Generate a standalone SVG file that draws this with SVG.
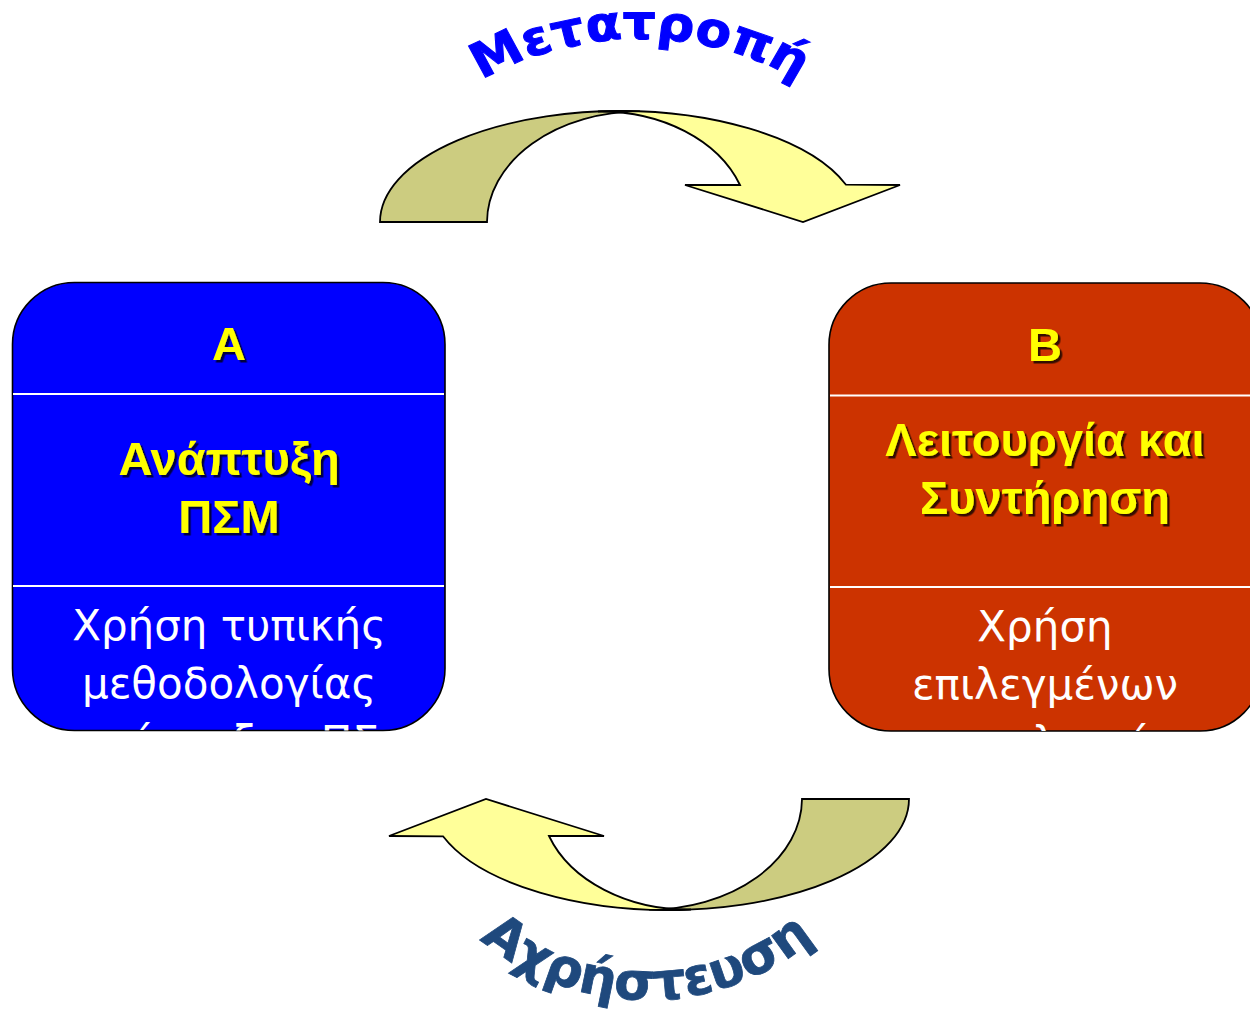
<svg xmlns="http://www.w3.org/2000/svg" width="1250" height="1011" viewBox="0 0 1250 1011">
  <style>
    .dark { fill: #CCCC80; stroke: #000; stroke-width: 1.8; stroke-linejoin: miter; }
    .light { fill: #FFFF99; stroke: #000; stroke-width: 1.8; stroke-linejoin: miter; }
    .box { stroke: #000; stroke-width: 1.6; }
    .div { stroke: #FFFFFF; stroke-width: 2; }
    .head { font-family: "Liberation Sans", Arial, sans-serif; font-weight: bold; font-size: 47px; fill: #FFFF00; text-anchor: middle; }
    .body { font-family: "DejaVu Sans", Verdana, sans-serif; font-size: 42px; fill: #FFFFFF; text-anchor: middle; }
    .title { font-family: "DejaVu Sans", Verdana, sans-serif; font-weight: bold; }
  </style>
  <defs>
    <filter id="shadow" x="-10%" y="-10%" width="130%" height="140%">
      <feDropShadow dx="2.5" dy="2.5" stdDeviation="0.6" flood-color="#000000" flood-opacity="0.75"/>
    </filter>
    <clipPath id="clipA"><rect x="12.5" y="282.5" width="432.5" height="448" rx="62" ry="62"/></clipPath>
    <clipPath id="clipB"><rect x="829" y="283" width="433" height="448" rx="62" ry="62"/></clipPath>
    <path id="arcTop" d="M 360.8,318 A 279.2,279.2 0 0 1 919.2,318"/>
    <path id="arcBot" d="M 387,740 A 260,260 0 0 0 907,740"/>
  </defs>

  <g id="connectors">
    <g id="arrow-top">
      <path class="dark" d="M380,222 A240,111 0 0 1 640,111.4 A153,111 0 0 0 487,222 Z"/>
      <path class="light" d="M598,111.5 A240,111 0 0 1 846,184.7 L900,185 L803,222 L685,185 L740,185 A148,111 0 0 0 598,111.5 Z"/>
    </g>
    <g id="arrow-bottom" transform="rotate(180 644.5 510.5)">
      <path class="dark" d="M380,222 A240,111 0 0 1 640,111.4 A153,111 0 0 0 487,222 Z"/>
      <path class="light" d="M598,111.5 A240,111 0 0 1 846,184.7 L900,185 L803,222 L685,185 L740,185 A148,111 0 0 0 598,111.5 Z"/>
    </g>
  </g>

  <g id="label-top" transform="translate(640 0) scale(1.08 1) translate(-640 0)">
    <text class="title" font-size="48" fill="#0000FF" stroke="#0000FF" stroke-width="1"><textPath href="#arcTop" startOffset="50%" text-anchor="middle">Μετατροπή</textPath></text>
  </g>
  <g id="label-bottom">
    <text class="title" font-size="52" fill="#1F497D" stroke="#1F497D" stroke-width="0.8"><textPath href="#arcBot" startOffset="50%" text-anchor="middle">Αχρήστευση</textPath></text>
  </g>

  <g id="node-A">
    <rect class="box" x="12.5" y="282.5" width="432.5" height="448" rx="62" ry="62" fill="#0000FF"/>
    <line class="div" x1="13" y1="394" x2="444" y2="394"/>
    <line class="div" x1="13" y1="586" x2="444" y2="586"/>
    <g filter="url(#shadow)">
      <text class="head" x="229" y="360">A</text>
      <text class="head" x="229" y="475">Ανάπτυξη</text>
      <text class="head" x="229" y="533">ΠΣΜ</text>
    </g>
    <g clip-path="url(#clipA)">
      <text class="body" x="229" y="640">Χρήση τυπικής</text>
      <text class="body" x="229" y="698">μεθοδολογίας</text>
      <text class="body" x="229" y="756">ανάπτυξης ΠΣ</text>
    </g>
  </g>

  <g id="node-B">
    <rect class="box" x="829" y="283" width="433" height="448" rx="62" ry="62" fill="#CC3300"/>
    <line class="div" x1="830" y1="395.5" x2="1262" y2="395.5"/>
    <line class="div" x1="830" y1="587" x2="1262" y2="587"/>
    <g filter="url(#shadow)">
      <text class="head" x="1045" y="361">B</text>
      <text class="head" x="1045" y="456">Λειτουργία και</text>
      <text class="head" x="1045" y="514">Συντήρηση</text>
    </g>
    <g clip-path="url(#clipB)">
      <text class="body" x="1045" y="641">Χρήση</text>
      <text class="body" x="1045" y="699">επιλεγμένων</text>
      <text class="body" x="1045" y="757">τεχνολογιών</text>
    </g>
  </g>
</svg>
